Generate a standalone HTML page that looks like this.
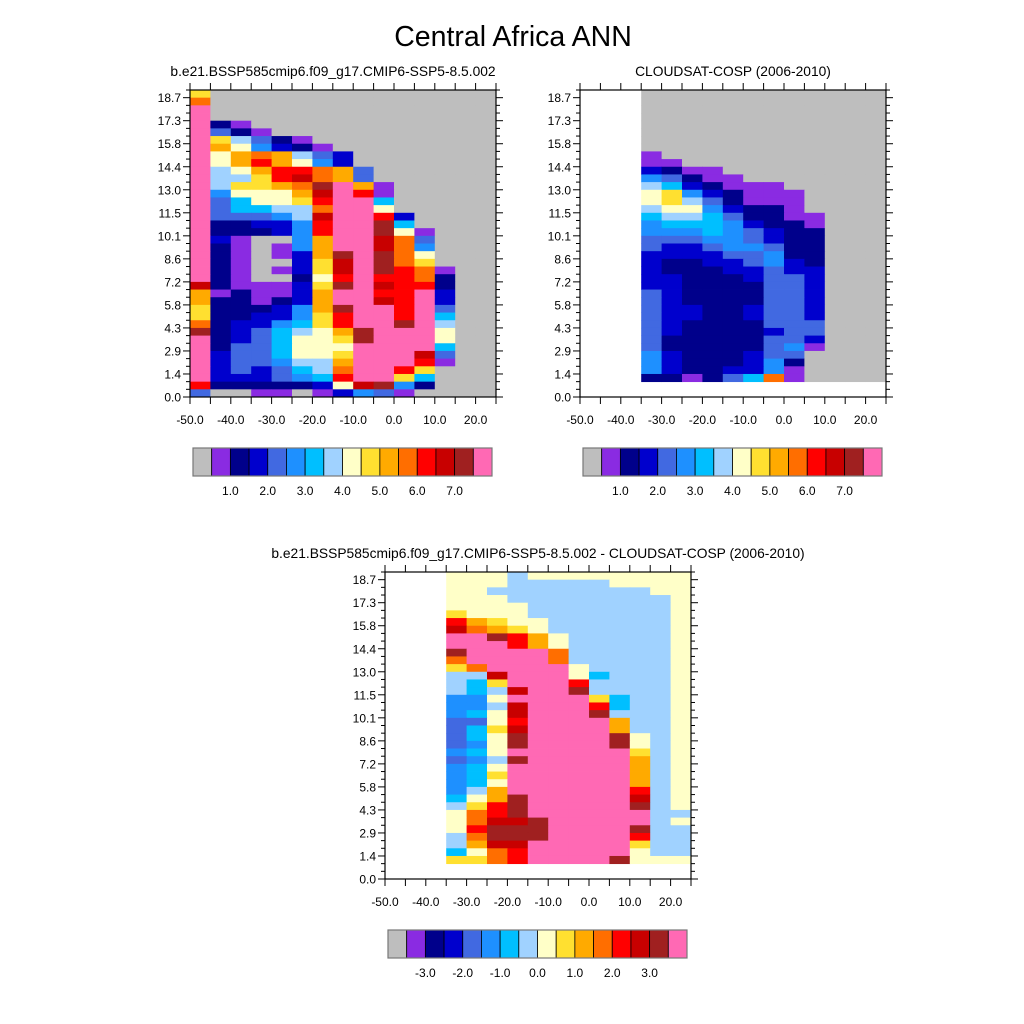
<!DOCTYPE html>
<html><head><meta charset="utf-8"><style>
html,body{margin:0;padding:0;background:#fff}
svg{display:block}
text{font-family:"Liberation Sans",sans-serif;fill:#000}
</style></head><body>
<svg id="fig" width="1024" height="1024" viewBox="0 0 1024 1024">
<text x="513" y="46" font-size="28.5" text-anchor="middle">Central Africa ANN</text>
</svg>
<script>
// Altitude bins: 40 rows (0.48 km each), dBZ bins: 15 columns (5 dBZ each, -50..25)
// Values are binned codes (units of 0.5 on colorbar); -1 = no data (white), 0 = below range (gray)
const xTickLabels = ["-50.0","-40.0","-30.0","-20.0","-10.0","0.0","10.0","20.0"];
const yTickLabels = ["0.0","1.4","2.9","4.3","5.8","7.2","8.6","10.1","11.5","13.0","14.4","15.8","17.3","18.7"];
const cbLabelsAbs = ["1.0","2.0","3.0","4.0","5.0","6.0","7.0"];
const cbLabelsDiff = ["-3.0","-2.0","-1.0","0.0","1.0","2.0","3.0"];
const palette = ["#bebebe","#8a2be2","#00008b","#0000cd","#4169e1","#1e90ff","#00bfff","#a0d2ff","#ffffc8","#ffe030","#ffaa00","#ff6e00","#ff0000","#c80000","#a02020","#ff69b4"];

const modelVals = [
[9,0,0,0,0,0,0,0,0,0,0,0,0,0,0],
[11,0,0,0,0,0,0,0,0,0,0,0,0,0,0],
[15,0,0,0,0,0,0,0,0,0,0,0,0,0,0],
[15,0,0,0,0,0,0,0,0,0,0,0,0,0,0],
[15,2,1,0,0,0,0,0,0,0,0,0,0,0,0],
[15,4,2,1,0,0,0,0,0,0,0,0,0,0,0],
[15,9,7,4,2,1,0,0,0,0,0,0,0,0,0],
[15,10,8,5,3,2,1,0,0,0,0,0,0,0,0],
[15,8,10,11,10,7,4,3,0,0,0,0,0,0,0],
[15,8,10,12,10,8,5,3,0,0,0,0,0,0,0],
[15,7,8,10,12,12,11,10,4,0,0,0,0,0,0],
[15,7,7,9,12,13,11,10,4,0,0,0,0,0,0],
[15,7,9,9,10,11,14,15,10,1,0,0,0,0,0],
[15,5,8,8,8,10,13,15,12,1,0,0,0,0,0],
[15,4,6,8,8,9,12,15,15,6,0,0,0,0,0],
[15,4,6,6,7,7,11,15,15,8,0,0,0,0,0],
[15,4,4,4,5,7,13,15,15,12,3,0,0,0,0],
[15,2,2,3,3,5,12,15,15,14,6,0,0,0,0],
[15,2,2,2,3,5,12,15,15,14,8,1,0,0,0],
[15,3,1,0,0,5,10,15,15,13,11,4,0,0,0],
[15,2,1,0,1,5,10,15,15,13,11,5,0,0,0],
[15,2,1,0,1,3,10,14,15,14,11,8,0,0,0],
[15,2,1,0,0,3,9,13,15,14,11,9,0,0,0],
[15,2,1,0,1,3,9,13,15,14,12,11,1,0,0],
[15,2,1,0,0,2,8,12,15,12,12,11,2,0,0],
[13,2,1,1,1,3,9,14,15,13,12,12,2,0,0],
[10,1,2,1,1,3,10,15,15,12,12,15,3,0,0],
[10,2,2,1,2,3,10,15,15,13,12,15,3,0,0],
[9,2,2,2,3,5,10,14,15,15,12,15,4,0,0],
[9,2,2,3,3,5,9,12,15,15,12,15,6,0,0],
[11,2,3,3,5,6,9,12,15,15,14,15,7,0,0],
[14,2,3,4,6,7,8,10,14,15,15,15,8,0,0],
[15,2,3,4,6,8,8,9,14,15,15,15,8,0,0],
[15,2,4,4,6,8,8,8,15,15,15,15,6,0,0],
[15,3,4,4,6,8,8,9,15,15,15,13,4,0,0],
[15,3,4,4,5,7,7,10,15,15,15,12,1,0,0],
[15,3,4,3,4,6,7,11,15,15,12,9,0,0,0],
[15,3,3,3,4,5,6,12,15,15,9,6,0,0,0],
[12,2,2,2,2,2,3,8,13,14,5,2,0,0,0],
[4,0,0,1,1,0,1,3,5,4,1,0,0,0,0]
];

// Observation & difference panels: columns 3..14, rows 0..37
const obsVals = [
[0,0,0,0,0,0,0,0,0,0,0,0],
[0,0,0,0,0,0,0,0,0,0,0,0],
[0,0,0,0,0,0,0,0,0,0,0,0],
[0,0,0,0,0,0,0,0,0,0,0,0],
[0,0,0,0,0,0,0,0,0,0,0,0],
[0,0,0,0,0,0,0,0,0,0,0,0],
[0,0,0,0,0,0,0,0,0,0,0,0],
[0,0,0,0,0,0,0,0,0,0,0,0],
[1,0,0,0,0,0,0,0,0,0,0,0],
[1,1,0,0,0,0,0,0,0,0,0,0],
[3,2,1,1,0,0,0,0,0,0,0,0],
[5,4,2,1,1,0,0,0,0,0,0,0],
[7,6,3,2,1,1,1,0,0,0,0,0],
[8,9,5,3,2,1,1,1,0,0,0,0],
[8,9,7,4,2,1,1,1,0,0,0,0],
[7,8,8,5,3,2,2,1,0,0,0,0],
[6,7,7,6,4,2,2,1,1,0,0,0],
[5,6,6,6,5,3,2,2,1,0,0,0],
[5,5,5,6,5,4,3,2,2,0,0,0],
[4,4,4,5,5,4,3,2,2,0,0,0],
[4,3,3,4,5,5,4,2,2,0,0,0],
[3,3,3,3,4,4,5,2,2,0,0,0],
[3,2,2,3,3,4,5,3,2,0,0,0],
[3,2,2,2,3,3,4,3,3,0,0,0],
[3,3,2,2,2,3,4,4,3,0,0,0],
[3,3,2,2,2,2,4,4,3,0,0,0],
[4,3,2,2,2,2,4,4,3,0,0,0],
[4,3,2,2,2,2,4,4,3,0,0,0],
[4,3,3,2,2,3,4,4,3,0,0,0],
[4,3,3,2,2,3,4,4,3,0,0,0],
[4,3,2,2,2,2,4,4,4,0,0,0],
[4,3,2,2,2,2,3,4,4,0,0,0],
[4,2,2,2,2,2,4,4,3,0,0,0],
[4,2,2,2,2,2,4,5,1,0,0,0],
[5,3,2,2,2,3,4,4,0,0,0,0],
[5,3,2,2,2,3,5,2,0,0,0,0],
[5,3,2,2,3,3,5,1,0,0,0,0],
[2,2,1,2,4,6,11,1,0,0,0,0]
];

const diffVals = [
[8,8,8,7,8,8,8,8,8,8,8,8],
[8,8,8,7,7,7,7,7,8,8,8,8],
[8,8,7,7,7,7,7,7,7,7,8,8],
[8,8,8,7,7,7,7,7,7,7,7,8],
[8,8,8,8,7,7,7,7,7,7,7,8],
[9,8,8,8,7,7,7,7,7,7,7,8],
[12,10,9,8,8,7,7,7,7,7,7,8],
[13,11,10,9,8,7,7,7,7,7,7,8],
[15,15,14,12,10,8,7,7,7,7,7,8],
[15,15,15,12,10,8,7,7,7,7,7,8],
[14,15,15,15,15,11,7,7,7,7,7,8],
[11,15,15,15,15,11,7,7,7,7,7,8],
[9,11,15,15,15,15,8,7,7,7,7,8],
[7,7,13,15,15,15,8,6,7,7,7,8],
[7,6,9,15,15,15,12,7,7,7,7,8],
[7,6,7,13,15,15,14,7,7,7,7,8],
[5,5,8,15,15,15,15,9,6,7,7,8],
[5,5,7,13,15,15,15,12,6,7,7,8],
[5,6,8,13,15,15,15,14,7,7,7,8],
[4,4,8,12,15,15,15,15,10,7,7,8],
[4,6,9,13,15,15,15,15,10,7,7,8],
[4,6,8,14,15,15,15,15,14,8,7,8],
[4,5,8,14,15,15,15,15,14,8,7,8],
[5,6,8,15,15,15,15,15,15,9,7,8],
[4,5,7,14,15,15,15,15,15,10,7,8],
[5,6,8,15,15,15,15,15,15,10,7,8],
[5,6,9,15,15,15,15,15,15,10,7,8],
[5,6,8,15,15,15,15,15,15,10,7,8],
[5,7,10,15,15,15,15,15,15,12,7,8],
[6,8,10,14,15,15,15,15,15,13,7,8],
[7,9,12,14,15,15,15,15,15,14,7,8],
[8,11,12,14,15,15,15,15,15,15,7,7],
[8,11,13,13,14,15,15,15,15,15,7,8],
[8,12,14,14,14,15,15,15,15,14,7,7],
[7,11,14,14,14,15,15,15,15,12,7,7],
[7,10,13,13,15,15,15,15,15,9,7,7],
[6,8,11,12,15,15,15,15,15,8,7,7],
[9,9,11,12,15,15,15,15,14,8,8,8]
];

const NS = "http://www.w3.org/2000/svg";
const svg = document.getElementById("fig");
function mk(tag, attrs, parent){ const e=document.createElementNS(NS,tag); for(const k in attrs) e.setAttribute(k,attrs[k]); (parent||svg).appendChild(e); return e; }

function drawPanel(px, py, vals, colStart, title, tx, name){
  const W=306, H=307, nCols=15, nRows=40;
  const g = mk("g",{});
  
  
  const xS = v => px + (v + 50) / 75 * W;
  const yS = km => py + H - km / 19.2 * H;
  vals.forEach((row, r) => {
    row.forEach((v, c) => {
      if (v < 0) return;
      const col = c + colStart;
      const idx = Math.max(0, Math.min(15, Math.floor(v)));
      const x0 = xS(-50 + col * 5), x1 = xS(-50 + (col + 1) * 5);
      const kmTop = (nRows - r) * 0.48, kmBot = (nRows - r - 1) * 0.48;
      const rect = mk("rect",{x:x0, y:yS(kmTop), width:x1-x0+0.4, height:yS(kmBot)-yS(kmTop)+0.4, fill:palette[idx]}, g);
      
      
    });
  });
  const frame = mk("rect",{x:px, y:py, width:W, height:H, fill:"none", stroke:"#000", "stroke-width":1.2}, g);
  
  
  for (let v=-50; v<=25; v+=5){
    const x = xS(v);
    mk("line",{x1:x,y1:py+H,x2:x,y2:py+H+7,stroke:"#000","stroke-width":1},g);
    mk("line",{x1:x,y1:py,x2:x,y2:py-7,stroke:"#000","stroke-width":1},g);
  }
  xTickLabels.forEach((lab,i)=>{
    const t = mk("text",{x:xS(-50+i*10), y:py+H+27, "font-size":12, "text-anchor":"middle"}, g);
    t.textContent = lab;
    
    
  });
  for (let r=0; r<=nRows; r++){
    const y = yS(r*0.48), L = (r%3===0)?7:4;
    mk("line",{x1:px,y1:y,x2:px-L,y2:y,stroke:"#000","stroke-width":1},g);
    mk("line",{x1:px+W,y1:y,x2:px+W+L,y2:y,stroke:"#000","stroke-width":1},g);
  }
  yTickLabels.forEach((lab,i)=>{
    const t = mk("text",{x:px-9, y:yS(i*1.44)+4.5, "font-size":12, "text-anchor":"end"}, g);
    t.textContent = lab;
    
    
  });
  const tt = mk("text",{x:tx, y:py-14, "font-size":13.8, "text-anchor":"middle"}, g);
  tt.textContent = title;
  
  
}

function drawColorbar(x0, y0, labels, name){
  const W=299, H=28, n=16, bw=W/n;
  const g = mk("g",{});
  
  
  for (let i=0;i<n;i++){
    const r = mk("rect",{x:x0+i*bw, y:y0, width:bw, height:H, fill:palette[i], stroke:"#000", "stroke-width":0.8}, g);
    
    
  }
  mk("rect",{x:x0,y:y0,width:W,height:H,fill:"none",stroke:"#777","stroke-width":1.2},g);
  labels.forEach((lab,i)=>{
    const t = mk("text",{x:x0+(2+2*i)*bw, y:y0+H+19, "font-size":12, "text-anchor":"middle"}, g);
    t.textContent = lab;
    
    
  });
}

drawPanel(190, 90, modelVals, 0, "b.e21.BSSP585cmip6.f09_g17.CMIP6-SSP5-8.5.002", 333, "model-panel");
drawPanel(580, 90, obsVals, 3, "CLOUDSAT-COSP (2006-2010)", 733, "obs-panel");
drawPanel(385, 572, diffVals, 3, "b.e21.BSSP585cmip6.f09_g17.CMIP6-SSP5-8.5.002 - CLOUDSAT-COSP (2006-2010)", 538, "diff-panel");
drawColorbar(193, 448, cbLabelsAbs, "model-colorbar");
drawColorbar(583, 448, cbLabelsAbs, "obs-colorbar");
drawColorbar(388, 930, cbLabelsDiff, "diff-colorbar");
</script>
</body></html>
